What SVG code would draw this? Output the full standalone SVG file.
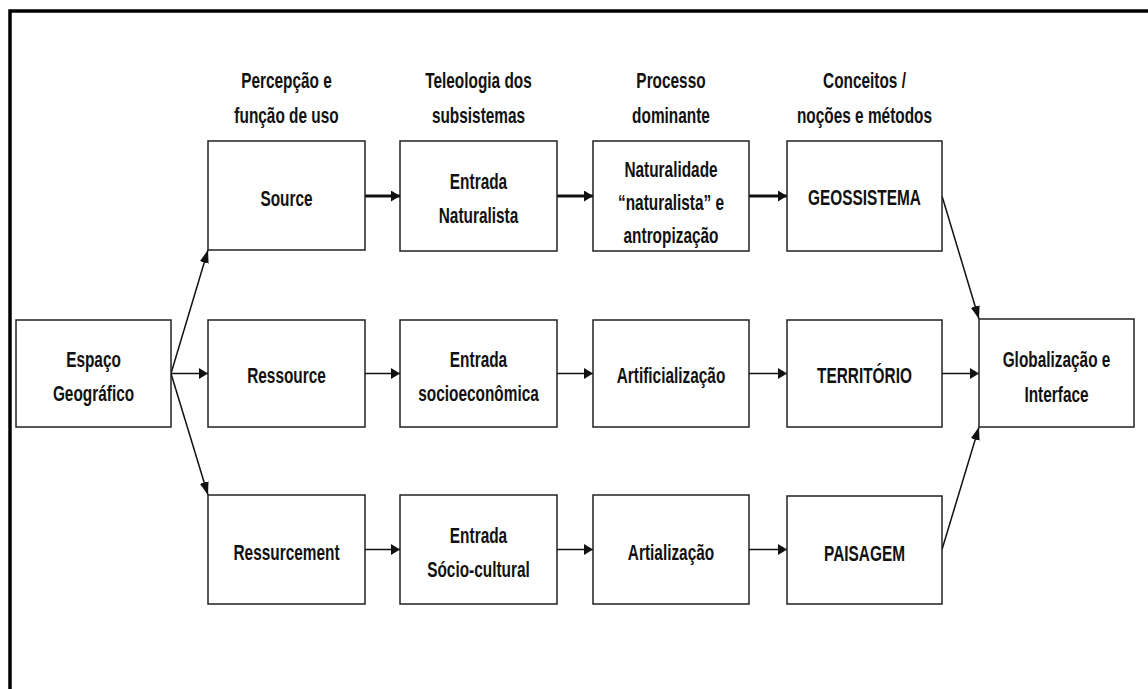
<svg xmlns="http://www.w3.org/2000/svg" width="1148" height="689" viewBox="0 0 1148 689">
<style>
.box{fill:#fff;stroke:#222;stroke-width:1.5}
.t{font-family:"Liberation Sans",Arial,sans-serif;font-size:22px;font-weight:bold;fill:#111;text-anchor:middle}
.thin{stroke:#111;stroke-width:1.5;fill:none}
.thick{stroke:#111;stroke-width:3;fill:none}
.frame{stroke:#000;stroke-width:3.5;fill:none}
</style>
<defs>
<marker id="ah" markerUnits="userSpaceOnUse" markerWidth="10" markerHeight="11" refX="9" refY="5.5" orient="auto">
<path d="M0,0 L9,5.5 L0,11 z" fill="#111"/>
</marker>
<marker id="ad" markerUnits="userSpaceOnUse" markerWidth="14" markerHeight="9" refX="13" refY="4.5" orient="auto">
<path d="M0,0 L13,4.5 L0,9 z" fill="#111"/>
</marker>
</defs>
<rect width="1148" height="689" fill="#fff"/>
<path class="frame" d="M10,689 L10,11 L1148,11"/>

<g id="headers" class="t">
<g transform="translate(286.5 0) scale(.7 1)"><text x="0" y="88">Percepção e</text><text x="0" y="123">função de uso</text></g>
<g transform="translate(478.5 0) scale(.7 1)"><text x="0" y="88">Teleologia dos</text><text x="0" y="123">subsistemas</text></g>
<g transform="translate(671 0) scale(.7 1)"><text x="0" y="88">Processo</text><text x="0" y="123">dominante</text></g>
<g transform="translate(864.5 0) scale(.7 1)"><text x="0" y="88">Conceitos /</text><text x="0" y="123">noções e métodos</text></g>
</g>

<g id="connectors">
<line class="thick" x1="365" y1="196" x2="400" y2="196" marker-end="url(#ah)"/>
<line class="thick" x1="557" y1="196" x2="593" y2="196" marker-end="url(#ah)"/>
<line class="thick" x1="749" y1="196" x2="787" y2="196" marker-end="url(#ah)"/>
<line class="thin" x1="171" y1="373.5" x2="208" y2="373.5" marker-end="url(#ah)"/>
<line class="thin" x1="365" y1="373.5" x2="400" y2="373.5" marker-end="url(#ah)"/>
<line class="thin" x1="557" y1="373.5" x2="593" y2="373.5" marker-end="url(#ah)"/>
<line class="thin" x1="749" y1="373.5" x2="787" y2="373.5" marker-end="url(#ah)"/>
<line class="thin" x1="942" y1="373.5" x2="979" y2="373.5" marker-end="url(#ah)"/>
<line class="thin" x1="365" y1="549.5" x2="400" y2="549.5" marker-end="url(#ah)"/>
<line class="thin" x1="557" y1="549.5" x2="593" y2="549.5" marker-end="url(#ah)"/>
<line class="thin" x1="749" y1="549.5" x2="787" y2="549.5" marker-end="url(#ah)"/>
<line class="thin" x1="171" y1="373.5" x2="208" y2="250" marker-end="url(#ad)"/>
<line class="thin" x1="171" y1="373.5" x2="208" y2="495" marker-end="url(#ad)"/>
<line class="thin" x1="942" y1="196" x2="979" y2="319" marker-end="url(#ad)"/>
<line class="thin" x1="942" y1="549.5" x2="979" y2="427" marker-end="url(#ad)"/>
</g>

<g id="espaco"><rect class="box" x="16" y="320" width="155" height="107"/>
<g class="t" transform="translate(93.5 0) scale(.7 1)"><text x="0" y="367">Espaço</text><text x="0" y="401">Geográfico</text></g></g>

<g id="source"><rect class="box" x="208" y="141" width="157" height="109"/>
<g class="t" transform="translate(286.5 0) scale(.7 1)"><text x="0" y="206">Source</text></g></g>
<g id="ressource"><rect class="box" x="208" y="320" width="157" height="107"/>
<g class="t" transform="translate(286.5 0) scale(.7 1)"><text x="0" y="383">Ressource</text></g></g>
<g id="ressurcement"><rect class="box" x="208" y="495" width="157" height="109"/>
<g class="t" transform="translate(286.5 0) scale(.7 1)"><text x="0" y="560">Ressurcement</text></g></g>

<g id="entrada-naturalista"><rect class="box" x="400" y="141" width="157" height="110"/>
<g class="t" transform="translate(478.5 0) scale(.7 1)"><text x="0" y="189.5">Entrada</text><text x="0" y="223.5">Naturalista</text></g></g>
<g id="entrada-socio"><rect class="box" x="400" y="320" width="157" height="107"/>
<g class="t" transform="translate(478.5 0) scale(.7 1)"><text x="0" y="367">Entrada</text><text x="0" y="401">socioeconômica</text></g></g>
<g id="entrada-cultural"><rect class="box" x="400" y="495" width="157" height="109"/>
<g class="t" transform="translate(478.5 0) scale(.7 1)"><text x="0" y="543">Entrada</text><text x="0" y="577">Sócio-cultural</text></g></g>

<g id="naturalidade"><rect class="box" x="593" y="141" width="156" height="110"/>
<g class="t" transform="translate(671 0) scale(.7 1)"><text x="0" y="177">Naturalidade</text><text x="0" y="210">“naturalista” e</text><text x="0" y="243">antropização</text></g></g>
<g id="artificializacao"><rect class="box" x="593" y="320" width="156" height="107"/>
<g class="t" transform="translate(671 0) scale(.7 1)"><text x="0" y="383">Artificialização</text></g></g>
<g id="artializacao"><rect class="box" x="593" y="495" width="156" height="109"/>
<g class="t" transform="translate(671 0) scale(.7 1)"><text x="0" y="560">Artialização</text></g></g>

<g id="geossistema"><rect class="box" x="787" y="141" width="155" height="110"/>
<g class="t" transform="translate(864.5 0) scale(.7 1)"><text x="0" y="205">GEOSSISTEMA</text></g></g>
<g id="territorio"><rect class="box" x="787" y="320" width="155" height="107"/>
<g class="t" transform="translate(864.5 0) scale(.7 1)"><text x="0" y="383">TERRITÓRIO</text></g></g>
<g id="paisagem"><rect class="box" x="787" y="496" width="155" height="108"/>
<g class="t" transform="translate(864.5 0) scale(.7 1)"><text x="0" y="561">PAISAGEM</text></g></g>

<g id="globalizacao"><rect class="box" x="979" y="319" width="155" height="108"/>
<g class="t" transform="translate(1056.5 0) scale(.7 1)"><text x="0" y="367">Globalização e</text><text x="0" y="402">Interface</text></g></g>
</svg>
